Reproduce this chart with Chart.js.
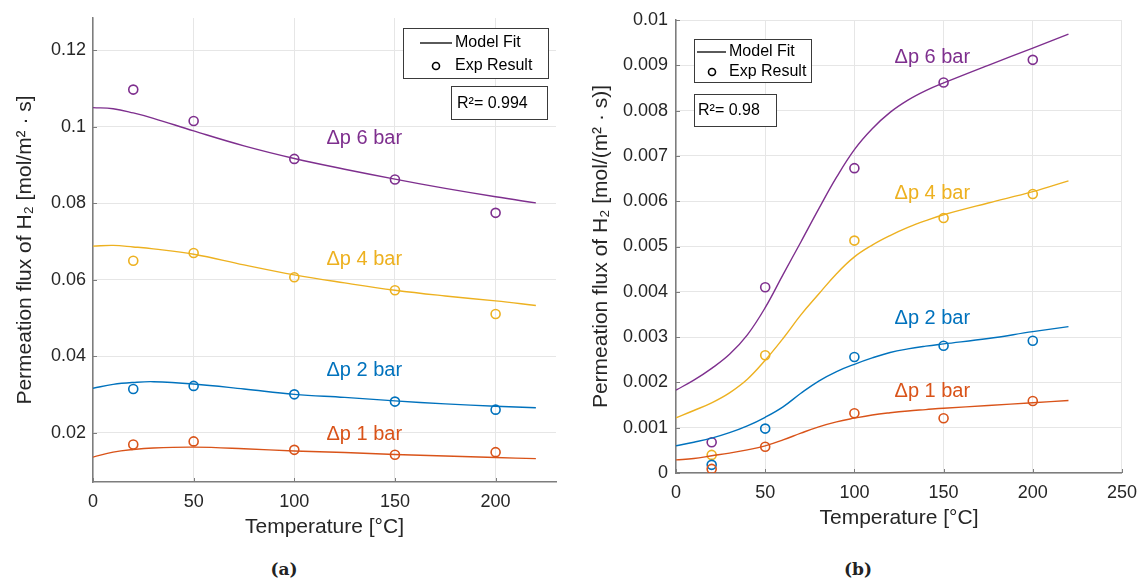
<!DOCTYPE html>
<html>
<head>
<meta charset="utf-8">
<script src="https://cdn.jsdelivr.net/npm/chart.js@4/dist/chart.umd.min.js"></script>
<style>
  body { margin: 0; background: #fff; width: 1146px; height: 579px; position: relative; overflow: hidden; }
  canvas { position: absolute; top: 0; }
  #chartA { left: 0; }
  #chartB { left: 573px; }
  .cap { position: absolute; top: 559px; font: bold 17px "DejaVu Serif", "Liberation Serif", serif; color: #222; transform: translateX(-50%); }
</style>
</head>
<body>
<canvas id="chartA" width="573" height="540"></canvas>
<canvas id="chartB" width="573" height="540"></canvas>
<div class="cap" style="left:284px">(a)</div>
<div class="cap" style="left:858px">(b)</div>
<script>
// ---- data ----
const seriesNames = ['Δp 1 bar', 'Δp 2 bar', 'Δp 4 bar', 'Δp 6 bar'];
const expTemp = [20, 50, 100, 150, 200];

// (a)
const fitTempA = [0, 10, 20, 30, 50, 75, 100, 125, 150, 175, 200, 220];
const fitA1 = [0.0137, 0.0150, 0.0157, 0.0161, 0.0163, 0.0159, 0.0153, 0.0149, 0.0144, 0.0140, 0.0136, 0.0133];
const fitA2 = [0.0317, 0.0327, 0.0332, 0.0334, 0.0328, 0.0315, 0.0301, 0.0293, 0.0284, 0.0276, 0.0270, 0.0266];
const fitA4 = [0.0688, 0.0690, 0.0686, 0.0681, 0.0667, 0.0639, 0.0613, 0.0592, 0.0573, 0.0558, 0.0545, 0.0533];
const fitA6 = [0.1050, 0.1047, 0.1036, 0.1022, 0.0989, 0.0950, 0.0917, 0.0889, 0.0863, 0.0839, 0.0817, 0.0801];
const expA1 = [0.0170, 0.0178, 0.0156, 0.0143, 0.0150];
const expA2 = [0.0315, 0.0323, 0.0301, 0.0282, 0.0261];
const expA4 = [0.0650, 0.0670, 0.0607, 0.0573, 0.0511];
const expA6 = [0.1097, 0.1015, 0.0916, 0.0862, 0.0775];
const xTicksA = [0, 50, 100, 150, 200];
const yTicksA = [0.02, 0.04, 0.06, 0.08, 0.1, 0.12];
const yTickLabelsA = ['0.02', '0.04', '0.06', '0.08', '0.1', '0.12'];

// (b)
const fitTempB = [0, 10, 20, 30, 40, 50, 60, 70, 80, 90, 100, 110, 120, 130, 140, 150, 175, 200, 220];
const fitB1 = [0.00029, 0.00032, 0.00038, 0.00044, 0.00051, 0.00060, 0.00073, 0.00088, 0.00102, 0.00113, 0.00121, 0.00128, 0.00133, 0.00137, 0.00140, 0.00143, 0.00149, 0.00155, 0.00160];
const fitB2 = [0.00060, 0.00068, 0.00077, 0.00089, 0.00104, 0.00123, 0.00146, 0.00176, 0.00203, 0.00224, 0.00240, 0.00254, 0.00266, 0.00274, 0.00280, 0.00285, 0.00297, 0.00312, 0.00323];
const fitB4 = [0.00122, 0.00138, 0.00155, 0.00177, 0.00207, 0.00249, 0.00297, 0.00349, 0.00395, 0.00440, 0.00477, 0.00503, 0.00524, 0.00542, 0.00557, 0.00570, 0.00596, 0.00621, 0.00645];
const fitB6 = [0.00183, 0.00205, 0.00231, 0.00262, 0.00305, 0.00365, 0.00438, 0.00510, 0.00583, 0.00653, 0.00714, 0.00760, 0.00796, 0.00823, 0.00844, 0.00861, 0.00900, 0.00938, 0.00969];
const expB1 = [0.00009, 0.00058, 0.00132, 0.00121, 0.00159];
const expB2 = [0.00018, 0.00098, 0.00256, 0.00281, 0.00292];
const expB4 = [0.00040, 0.00260, 0.00513, 0.00563, 0.00616];
const expB6 = [0.00068, 0.00410, 0.00673, 0.00862, 0.00912];
const xTicksB = [0, 50, 100, 150, 200, 250];
const yTicksB = [0, 0.001, 0.002, 0.003, 0.004, 0.005, 0.006, 0.007, 0.008, 0.009, 0.01];
const yTickLabelsB = ['0', '0.001', '0.002', '0.003', '0.004', '0.005', '0.006', '0.007', '0.008', '0.009', '0.01'];

// ---- styling ----
const colors = ['#D95319', '#0072BD', '#EDB120', '#7E2F8E'];
const FONT = '"Liberation Sans", Arial, sans-serif';
const textColor = '#262626';
const axisColor = '#7d7d7d';
const gridColor = '#e6e6e6';

function buildDatasets(fitX, fits, exps) {
  const sets = [];
  fits.forEach((fy, i) => {
    sets.push({
      label: seriesNames[i] + ' fit',
      data: fitX.map((x, k) => ({ x, y: fy[k] })),
      showLine: true,
      borderColor: colors[i],
      borderWidth: 1.4,
      pointRadius: 0,
      tension: 0.4
    });
  });
  exps.forEach((ey, i) => {
    sets.push({
      label: seriesNames[i],
      data: expTemp.map((x, k) => ({ x, y: ey[k] })),
      showLine: false,
      borderColor: colors[i],
      backgroundColor: 'rgba(0,0,0,0)',
      pointRadius: 4.5,
      borderWidth: 1.6
    });
  });
  return sets;
}

// labels, legend box and inward tick marks
const annotate = {
  id: 'annotate',
  afterDatasetsDraw(chart, args, o) {
    const ctx = chart.ctx, xs = chart.scales.x, ys = chart.scales.y, a = chart.chartArea;
    ctx.save();
    ctx.strokeStyle = axisColor;
    ctx.lineWidth = 1;
    xs.ticks.forEach(t => {
      const px = Math.round(xs.getPixelForValue(t.value)) + 0.5;
      ctx.beginPath(); ctx.moveTo(px, a.bottom); ctx.lineTo(px, a.bottom - 4); ctx.stroke();
    });
    ys.ticks.forEach(t => {
      const py = Math.round(ys.getPixelForValue(t.value)) + 0.5;
      ctx.beginPath(); ctx.moveTo(a.left, py); ctx.lineTo(a.left + 4, py); ctx.stroke();
    });

    ctx.font = '20px ' + FONT;
    ctx.textAlign = 'left';
    ctx.textBaseline = 'middle';
    o.labels.forEach((l, i) => {
      ctx.fillStyle = colors[i];
      ctx.fillText(seriesNames[i], xs.getPixelForValue(o.labelX), ys.getPixelForValue(l));
    });

    const L = o.legend;
    ctx.lineWidth = 1;
    ctx.strokeStyle = '#3a3a3a';
    ctx.fillStyle = '#fff';
    ctx.fillRect(L.x, L.y, L.w, L.h);
    ctx.strokeRect(L.x + 0.5, L.y + 0.5, L.w, L.h);
    ctx.fillRect(L.rx, L.ry, L.rw, L.rh);
    ctx.strokeRect(L.rx + 0.5, L.ry + 0.5, L.rw, L.rh);

    ctx.strokeStyle = '#000';
    ctx.lineWidth = 1.3;
    ctx.beginPath(); ctx.moveTo(L.lineX0, L.row1); ctx.lineTo(L.lineX1, L.row1); ctx.stroke();
    ctx.lineWidth = 1.6;
    ctx.beginPath(); ctx.arc(L.markX, L.row2, 3.5, 0, Math.PI * 2); ctx.stroke();

    ctx.fillStyle = '#000';
    ctx.font = '16px ' + FONT;
    ctx.fillText('Model Fit', L.textX, L.row1);
    ctx.fillText('Exp Result', L.textX, L.row2);
    ctx.fillText(o.r2, L.rtx, L.rty);
    ctx.restore();
  }
};

function makeChart(id, fitX, fits, exps, xMax, yMin, yMax, xTicks, yTicks, yLabels, lay) {
  return new Chart(document.getElementById(id), {
    type: 'scatter',
    data: { datasets: buildDatasets(fitX, fits, exps) },
    plugins: [annotate],
    options: {
      responsive: false,
      animation: false,
      layout: { padding: { top: lay.padTop, right: lay.padRight, left: 0, bottom: 0 } },
      plugins: {
        legend: { display: false },
        tooltip: { enabled: false },
        annotate: lay.annot
      },
      scales: {
        x: {
          type: 'linear', min: 0, max: xMax,
          afterBuildTicks: s => { s.ticks = xTicks.map(v => ({ value: v })); },
          afterFit: s => { s.height = lay.xAxisH; },
          grid: { color: gridColor, drawTicks: false },
          border: { color: axisColor, width: 1.5 },
          ticks: { padding: 9, color: textColor, font: { size: 18, family: FONT }, maxRotation: 0 },
          title: { display: true, text: 'Temperature [°C]', color: textColor,
                   font: { size: 21, family: FONT }, padding: { top: 0, bottom: lay.xTitlePad } }
        },
        y: {
          type: 'linear', min: yMin, max: yMax,
          afterBuildTicks: s => { s.ticks = yTicks.map(v => ({ value: v })); },
          afterFit: s => { s.width = lay.yAxisW; },
          grid: { color: gridColor, drawTicks: false },
          border: { color: axisColor, width: 1.5 },
          ticks: {
            padding: lay.yTickPad, color: textColor, font: { size: 18, family: FONT },
            callback: (v, i) => yLabels[i]
          },
          title: { display: true, text: lay.yTitle, color: textColor,
                   font: { size: 21, family: FONT }, padding: { top: lay.yTitlePad, bottom: 0 } }
        }
      }
    }
  });
}

makeChart('chartA', fitTempA, [fitA1, fitA2, fitA4, fitA6], [expA1, expA2, expA4, expA6],
  230, 0.0072, 0.1284, xTicksA, yTicksA, yTickLabelsA, {
    padTop: 18, padRight: 17, xAxisH: 58, yAxisW: 93, yTickPad: 7, xTitlePad: 0, yTitlePad: 13,
    yTitle: 'Permeation flux of H₂ [mol/m² · s]',
    annot: {
      labelX: 116,
      labels: [0.0195, 0.0362, 0.0654, 0.0968],
      r2: 'R²= 0.994',
      legend: { x: 403, y: 28, w: 145, h: 50, lineX0: 420, lineX1: 452, markX: 436, textX: 455,
                row1: 43, row2: 66, rx: 451, ry: 86, rw: 96, rh: 33, rtx: 457, rty: 104 }
    }
  });

makeChart('chartB', fitTempB, [fitB1, fitB2, fitB4, fitB6], [expB1, expB2, expB4, expB6],
  250, 0, 0.01, xTicksB, yTicksB, yTickLabelsB, {
    padTop: 20, padRight: 15, xAxisH: 67, yAxisW: 103, yTickPad: 8, xTitlePad: 9, yTitlePad: 16,
    yTitle: 'Permeation flux of H₂ [mol/(m² · s)]',
    annot: {
      labelX: 122.5,
      labels: [0.00181, 0.0034, 0.00618, 0.00918],
      r2: 'R²= 0.98',
      legend: { x: 121, y: 39, w: 117, h: 43, lineX0: 124, lineX1: 153, markX: 139, textX: 156,
                row1: 52, row2: 72, rx: 121, ry: 94, rw: 82, rh: 32, rtx: 125, rty: 111 }
    }
  });
</script>
</body>
</html>
